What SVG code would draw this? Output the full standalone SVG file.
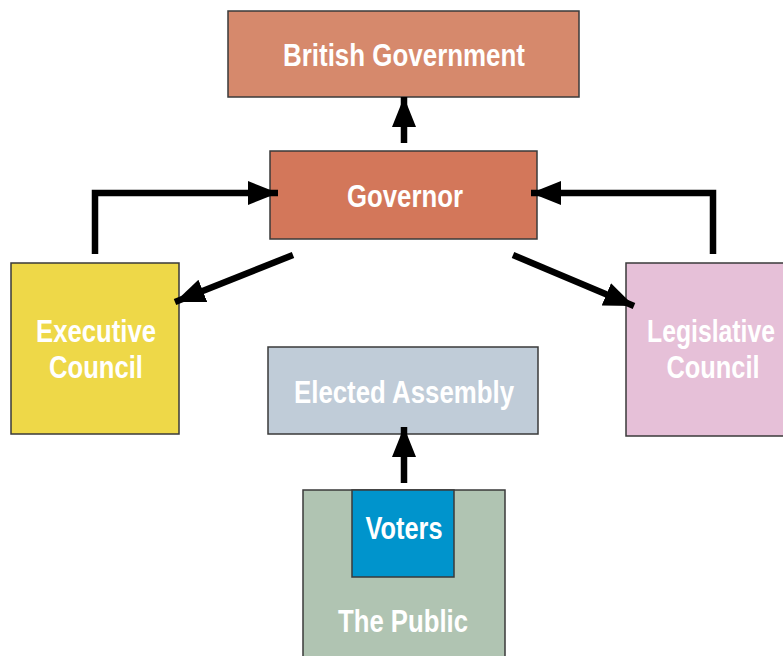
<svg xmlns="http://www.w3.org/2000/svg" width="783" height="656" viewBox="0 0 783 656">
<style>
.box{stroke:#3a3a3a;stroke-width:1.5}
.lbl{font-family:"Liberation Sans","Arial",sans-serif;font-weight:bold;font-size:31px;fill:#ffffff;text-anchor:middle}
.con{fill:none;stroke:#000;stroke-width:6.5}
</style>
<defs>
<marker id="ah" markerUnits="userSpaceOnUse" markerWidth="32" markerHeight="26" refX="30" refY="12" orient="auto">
<path d="M0,0 L30,12 L0,24 Z" fill="#000"/>
</marker>
</defs>
<rect width="783" height="656" fill="#fff"/>
<g id="british-government">
<rect class="box" x="228" y="11" width="351" height="86" fill="#d6896c"/>
<text class="lbl" x="404" y="66" textLength="242" lengthAdjust="spacingAndGlyphs">British Government</text>
</g>
<g id="governor">
<rect class="box" x="270" y="151" width="267" height="88" fill="#d3775a"/>
<text class="lbl" x="405" y="207" textLength="116" lengthAdjust="spacingAndGlyphs">Governor</text>
</g>
<g id="executive-council">
<rect class="box" x="11" y="263" width="168" height="171" fill="#eed848"/>
<text class="lbl" x="96" y="342" textLength="120" lengthAdjust="spacingAndGlyphs">Executive</text>
<text class="lbl" x="96" y="378" textLength="94" lengthAdjust="spacingAndGlyphs">Council</text>
</g>
<g id="legislative-council">
<rect class="box" x="626" y="263" width="160" height="173" fill="#e6c0d8"/>
<text class="lbl" x="711" y="342" textLength="128" lengthAdjust="spacingAndGlyphs">Legislative</text>
<text class="lbl" x="713" y="378" textLength="93" lengthAdjust="spacingAndGlyphs">Council</text>
</g>
<g id="elected-assembly">
<rect class="box" x="268" y="347" width="270" height="87" fill="#c0ccd8"/>
<text class="lbl" x="404" y="403" textLength="220" lengthAdjust="spacingAndGlyphs">Elected Assembly</text>
</g>
<g id="the-public">
<rect class="box" x="303" y="490" width="202" height="172" fill="#b0c4b2"/>
<text class="lbl" x="403" y="632" textLength="130" lengthAdjust="spacingAndGlyphs">The Public</text>
</g>
<g id="voters">
<rect class="box" x="352" y="490" width="102" height="87" fill="#0094cc"/>
<text class="lbl" x="404" y="539" textLength="77" lengthAdjust="spacingAndGlyphs">Voters</text>
</g>
<g id="connectors">
<path class="con" d="M404,143 L404,97" marker-end="url(#ah)"/>
<path class="con" d="M95,254 L95,193 L278,193" marker-end="url(#ah)"/>
<path class="con" d="M713,254 L713,193 L531,193" marker-end="url(#ah)"/>
<path class="con" d="M293,255 L175,302" marker-end="url(#ah)"/>
<path class="con" d="M513,255 L634,306" marker-end="url(#ah)"/>
<path class="con" d="M404,483 L404,427" marker-end="url(#ah)"/>
</g>
</svg>
